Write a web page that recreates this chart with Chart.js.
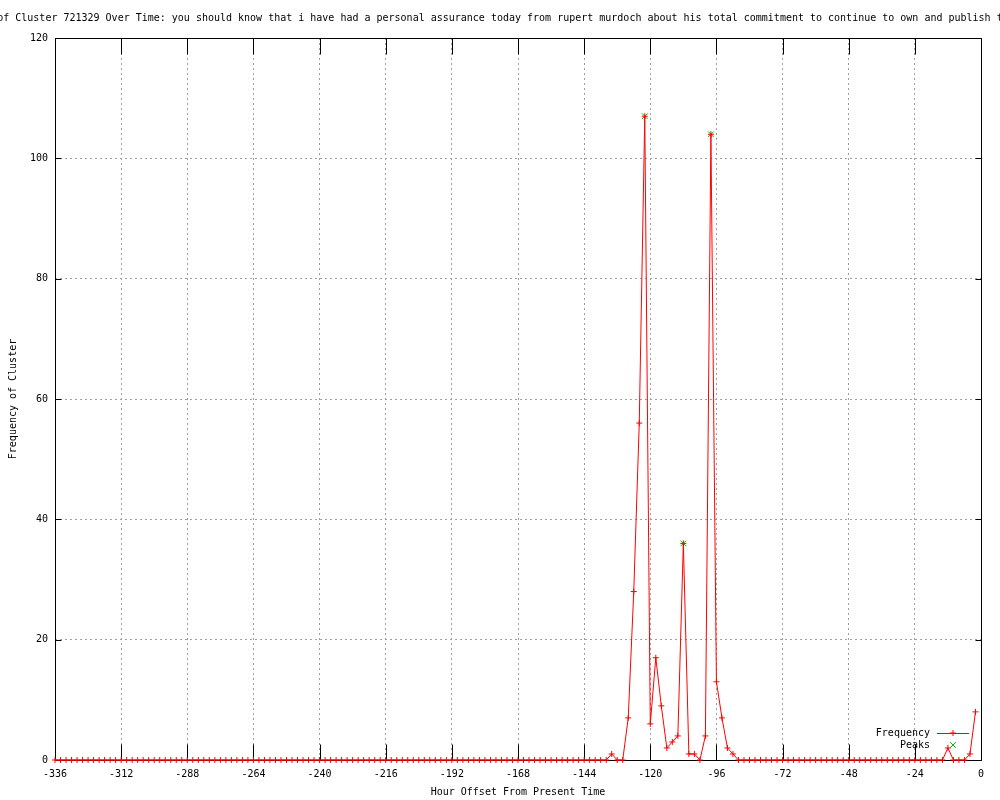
<!DOCTYPE html>
<html>
<head>
<meta charset="utf-8">
<script src="https://cdn.jsdelivr.net/npm/chart.js@4.4.1/dist/chart.umd.min.js"></script>
<style>
  html, body { margin: 0; padding: 0; background: #fff; }
</style>
</head>
<body>
<canvas id="clusterChart" width="1000" height="800"></canvas>
<script>
const titleText = 'Frequency of Cluster 721329 Over Time: you should know that i have had a personal assurance today from rupert murdoch about his total commitment to continue to own and publish the new york post';

// hour offsets, one reading every 2 hours
const hours = [
  -336, -334, -332, -330, -328, -326, -324, -322, -320, -318, -316, -314,
  -312, -310, -308, -306, -304, -302, -300, -298, -296, -294, -292, -290,
  -288, -286, -284, -282, -280, -278, -276, -274, -272, -270, -268, -266,
  -264, -262, -260, -258, -256, -254, -252, -250, -248, -246, -244, -242,
  -240, -238, -236, -234, -232, -230, -228, -226, -224, -222, -220, -218,
  -216, -214, -212, -210, -208, -206, -204, -202, -200, -198, -196, -194,
  -192, -190, -188, -186, -184, -182, -180, -178, -176, -174, -172, -170,
  -168, -166, -164, -162, -160, -158, -156, -154, -152, -150, -148, -146,
  -144, -142, -140, -138, -136, -134, -132, -130, -128, -126, -124, -122,
  -120, -118, -116, -114, -112, -110, -108, -106, -104, -102, -100, -98,
  -96, -94, -92, -90, -88, -86, -84, -82, -80, -78, -76, -74,
  -72, -70, -68, -66, -64, -62, -60, -58, -56, -54, -52, -50,
  -48, -46, -44, -42, -40, -38, -36, -34, -32, -30, -28, -26,
  -24, -22, -20, -18, -16, -14, -12, -10, -8, -6, -4, -2
];
const frequency = [
  0, 0, 0, 0, 0, 0, 0, 0, 0, 0, 0, 0,
  0, 0, 0, 0, 0, 0, 0, 0, 0, 0, 0, 0,
  0, 0, 0, 0, 0, 0, 0, 0, 0, 0, 0, 0,
  0, 0, 0, 0, 0, 0, 0, 0, 0, 0, 0, 0,
  0, 0, 0, 0, 0, 0, 0, 0, 0, 0, 0, 0,
  0, 0, 0, 0, 0, 0, 0, 0, 0, 0, 0, 0,
  0, 0, 0, 0, 0, 0, 0, 0, 0, 0, 0, 0,
  0, 0, 0, 0, 0, 0, 0, 0, 0, 0, 0, 0,
  0, 0, 0, 0, 0, 1, 0, 0, 7, 28, 56, 107,
  6, 17, 9, 2, 3, 4, 36, 1, 1, 0, 4, 104,
  13, 7, 2, 1, 0, 0, 0, 0, 0, 0, 0, 0,
  0, 0, 0, 0, 0, 0, 0, 0, 0, 0, 0, 0,
  0, 0, 0, 0, 0, 0, 0, 0, 0, 0, 0, 0,
  0, 0, 0, 0, 0, 0, 2, 0, 0, 0, 1, 8
];
const peakHours = [-122, -108, -98];
const peakValues = [107, 36, 104];

const xTicks = [-336, -312, -288, -264, -240, -216, -192, -168, -144, -120, -96, -72, -48, -24, 0];
const yTicks = [0, 20, 40, 60, 80, 100, 120];

const monoFont = { family: "'DejaVu Sans Mono', monospace", size: 10, lineHeight: 1.2 };

// gnuplot-ish title, drawn without squeezing so it runs off both edges
const titlePlugin = {
  id: 'plotTitle',
  afterDraw(chart) {
    const { ctx, chartArea } = chart;
    ctx.save();
    ctx.font = "10px 'DejaVu Sans Mono', monospace";
    ctx.fillStyle = '#000';
    ctx.textAlign = 'center';
    ctx.textBaseline = 'middle';
    ctx.fillText(titleText, (chartArea.left + chartArea.right) / 2, 18);
    ctx.restore();
  }
};

// border box plus inward tics on all four sides
const framePlugin = {
  id: 'frame',
  beforeDatasetsDraw(chart) {
    const { ctx, chartArea: a, scales } = chart;
    const l = Math.round(a.left) + 0.5, r = Math.round(a.right) + 0.5;
    const t = Math.round(a.top) + 0.5, b = Math.round(a.bottom) + 0.5;
    ctx.save();
    ctx.setLineDash([]);
    ctx.strokeStyle = '#000';
    ctx.lineWidth = 1;
    ctx.beginPath();
    ctx.rect(l, t, r - l, b - t);
    xTicks.forEach(v => {
      const px = Math.round(scales.x.getPixelForValue(v)) + 0.5;
      ctx.moveTo(px, b); ctx.lineTo(px, b - 16);
      ctx.moveTo(px, t); ctx.lineTo(px, t + 16);
    });
    yTicks.forEach(v => {
      const py = Math.round(scales.y.getPixelForValue(v)) + 0.5;
      ctx.moveTo(l, py); ctx.lineTo(l + 6, py);
      ctx.moveTo(r, py); ctx.lineTo(r - 6, py);
    });
    ctx.stroke();
    ctx.restore();
  }
};

// key in the lower right corner, text left of the sample
const keyPlugin = {
  id: 'key',
  afterDatasetsDraw(chart) {
    const { ctx, chartArea: a } = chart;
    const rows = [
      { ds: chart.data.datasets[0], y: a.bottom - 27, line: true },
      { ds: chart.data.datasets[1], y: a.bottom - 15, line: false }
    ];
    ctx.save();
    ctx.font = "10px 'DejaVu Sans Mono', monospace";
    ctx.textAlign = 'right';
    ctx.textBaseline = 'middle';
    rows.forEach(row => {
      ctx.fillStyle = '#000';
      ctx.fillText(row.ds.label, a.right - 51, row.y);
      const mid = a.right - 28;
      ctx.strokeStyle = row.ds.borderColor;
      ctx.lineWidth = 1;
      if (row.line) {
        ctx.beginPath();
        ctx.moveTo(a.right - 44, Math.round(row.y) + 0.5);
        ctx.lineTo(a.right - 12, Math.round(row.y) + 0.5);
        ctx.stroke();
      }
      Chart.helpers.drawPoint(ctx, {
        pointStyle: row.ds.pointStyle,
        radius: row.ds.pointRadius,
        rotation: 0,
        borderWidth: 1
      }, mid, row.y);
    });
    ctx.restore();
  }
};

new Chart(document.getElementById('clusterChart'), {
  type: 'line',
  data: {
    datasets: [{
      label: 'Frequency',
      data: hours.map((h, i) => ({ x: h, y: frequency[i] })),
      borderColor: '#ff0000',
      backgroundColor: '#ff0000',
      borderWidth: 1,
      tension: 0,
      pointStyle: 'cross',
      pointRadius: 3,
      pointBorderColor: '#ff0000',
      pointBorderWidth: 1,
      clip: false
    }, {
      label: 'Peaks',
      data: peakHours.map((h, i) => ({ x: h, y: peakValues[i] })),
      showLine: false,
      borderColor: '#00c000',
      backgroundColor: '#00c000',
      pointStyle: 'crossRot',
      pointRadius: 4,
      pointBorderColor: '#00c000',
      pointBorderWidth: 1,
      clip: false
    }]
  },
  options: {
    responsive: false,
    animation: false,
    devicePixelRatio: 1,
    layout: { padding: { top: 38, right: 19, left: 0, bottom: 0 } },
    plugins: {
      legend: { display: false },
      title: { display: false },
      tooltip: { enabled: false }
    },
    scales: {
      x: {
        type: 'linear',
        min: -336,
        max: 0,
        afterFit: s => { s.height = 40; },
        afterBuildTicks: s => { s.ticks = xTicks.map(v => ({ value: v })); },
        grid: { color: '#a0a0a0', drawTicks: false, lineWidth: 1 },
        border: { display: false, dash: [2, 3] },
        ticks: { color: '#000', font: monoFont, padding: 8, maxRotation: 0, autoSkip: false },
        title: {
          display: true,
          text: 'Hour Offset From Present Time',
          color: '#000',
          font: monoFont,
          padding: { top: 0, bottom: 2 }
        }
      },
      y: {
        min: 0,
        max: 120,
        afterFit: s => { s.width = 55; },
        afterBuildTicks: s => { s.ticks = yTicks.map(v => ({ value: v })); },
        grid: { color: '#a0a0a0', drawTicks: false, lineWidth: 1 },
        border: { display: false, dash: [2, 3] },
        ticks: { color: '#000', font: monoFont, padding: 7 },
        title: {
          display: true,
          text: 'Frequency of Cluster',
          color: '#000',
          font: monoFont,
          padding: { top: 7, bottom: 0 }
        }
      }
    }
  },
  plugins: [framePlugin, keyPlugin, titlePlugin]
});
</script>
</body>
</html>
